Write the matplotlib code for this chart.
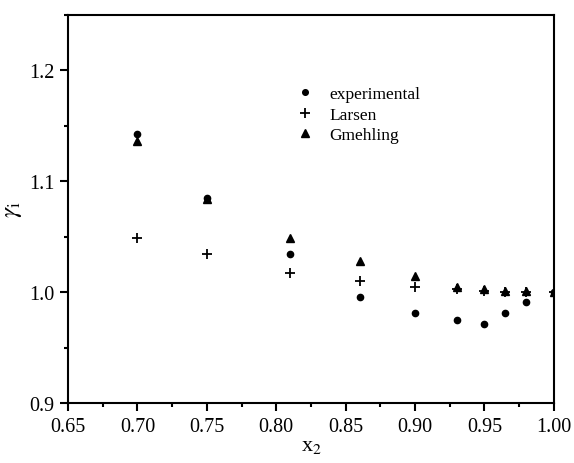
import matplotlib
matplotlib.use('Agg')
import matplotlib.pyplot as plt
from matplotlib.ticker import MultipleLocator

x2 = [0.70, 0.75, 0.81, 0.86, 0.90, 0.93, 0.95, 0.965, 0.98, 1.00]
experimental = [1.143, 1.085, 1.034, 0.996, 0.981, 0.975, 0.971, 0.981, 0.991, 1.000]
larsen = [1.049, 1.034, 1.017, 1.010, 1.005, 1.003, 1.001, 1.000, 1.000, 1.000]
gmehling = [1.136, 1.084, 1.049, 1.028, 1.015, 1.005, 1.003, 1.001, 1.001, 1.000]

plt.rcParams['font.family'] = ['Liberation Serif', 'DejaVu Serif']
plt.rcParams['mathtext.fontset'] = 'stix'

fig = plt.figure(figsize=(5.74, 4.64), dpi=100)
ax = fig.add_axes([0.1185, 0.1293, 0.8465, 0.8362])

ax.plot(x2, experimental, 'o', color='black', ms=4.5, label='experimental', zorder=3)
ax.plot(x2, larsen, '+', color='black', ms=7.5, mew=1.3, label='Larsen', zorder=3)
ax.plot(x2, gmehling, '^', color='black', ms=6, label='Gmehling', zorder=3)

ax.set_xlim(0.65, 1.00)
ax.set_ylim(0.9, 1.25)
ax.xaxis.set_major_locator(MultipleLocator(0.05))
ax.xaxis.set_minor_locator(MultipleLocator(0.025))
ax.yaxis.set_major_locator(MultipleLocator(0.1))
ax.yaxis.set_minor_locator(MultipleLocator(0.05))
ax.xaxis.set_major_formatter(plt.FuncFormatter(lambda v, p: '%.2f' % v))
ax.yaxis.set_major_formatter(plt.FuncFormatter(lambda v, p: '%.1f' % v))

for s in ax.spines.values():
    s.set_linewidth(1.5)
ax.tick_params(which='major', direction='out', length=6, width=1.5, labelsize=14.5, pad=4)
ax.tick_params(which='minor', direction='out', length=3, width=1.5)

ax.set_xlabel('x$_2$', fontsize=16, labelpad=0)
ax.set_ylabel(r'$\gamma_\mathrm{i}$', fontsize=18)
ax.yaxis.set_label_coords(-0.09, 0.5)

ax.legend(loc='upper left', bbox_to_anchor=(0.455, 0.835), frameon=False,
          fontsize=12.5, handlelength=1.0, handletextpad=0.9, markerscale=0.9,
          labelspacing=0.25, borderaxespad=0)

fig.savefig('out.png', dpi=100)
